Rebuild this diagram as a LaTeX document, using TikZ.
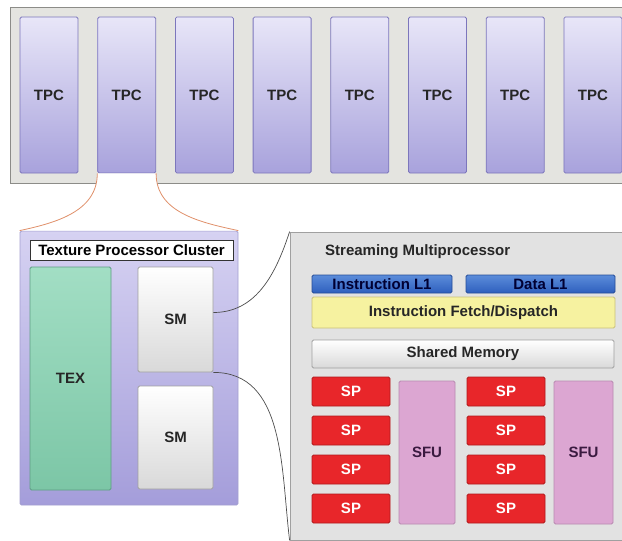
\documentclass[tikz,border=0pt]{standalone}
\usepackage{fontspec}
\setmainfont{Liberation Sans}
\usepackage[dvipsnames]{xcolor}
\usetikzlibrary{positioning}
\definecolor{barfill}{HTML}{E4E4E0}
\definecolor{barline}{HTML}{8C8C88}
\definecolor{tpctop}{HTML}{E8E6F8}
\definecolor{tpcbot}{HTML}{A8A2DC}
\definecolor{tpcline}{HTML}{7C76BC}
\definecolor{clutop}{HTML}{D6D2F2}
\definecolor{clubot}{HTML}{A49DDA}
\definecolor{texbot}{HTML}{7CC6A6}
\definecolor{textop}{HTML}{A2DEC4}
\definecolor{texline}{HTML}{5E9E84}
\definecolor{smline}{HTML}{A0A0A0}
\definecolor{smpfill}{HTML}{E2E2E2}
\definecolor{bluetop}{HTML}{5B8CDA}
\definecolor{bluebot}{HTML}{2E5FBE}
\definecolor{yelfill}{HTML}{F6F2A0}
\definecolor{yelline}{HTML}{C9C07A}
\definecolor{spfill}{HTML}{E8262A}
\definecolor{spline}{HTML}{B01A1C}
\definecolor{sfufill}{HTML}{DCA6D2}
\definecolor{sfuline}{HTML}{B88AB0}
\definecolor{sfutext}{HTML}{3A1A40}
\definecolor{funnel}{HTML}{E0906A}
\tikzset{box/.style = {draw, rounded corners=1.5pt, inner sep=0pt, line width=0.8pt,
                       font=\fontsize{15}{18}\selectfont\bfseries}}
\tikzset{
tpcbox/.style = {box, draw=tpcline, top color=tpctop, bottom color=tpcbot,
                 minimum width=58pt, minimum height=156pt, text=black!85},
clubox/.style = {box, draw=tpcline!70, top color=clutop, bottom color=clubot},
texbox/.style = {box, draw=texline, top color=textop, bottom color=texbot, text=black!85},
smbox/.style = {box, draw=smline, top color=white, bottom color=black!15,
                minimum width=75pt, text=black!85},
l1box/.style = {box, draw=bluebot!80!black, top color=bluetop, bottom color=bluebot,
                minimum height=18pt, text=black!80!blue},
spbox/.style = {box, draw=spline, fill=spfill, minimum width=78pt, minimum height=29pt,
                text=white},
sfubox/.style = {box, draw=sfuline, fill=sfufill, minimum height=143pt, text=sfutext},
link/.style = {black!70, line width=0.7pt},
}

\begin{document}
\begin{tikzpicture}[x=1pt, y=-1pt]
		\useasboundingbox (0,0) rectangle (622,541);
		\clip (0,0) rectangle (622,541);
		\node[box, draw=barline, fill=barfill, rounded corners=0pt, minimum width=622pt, minimum height=176pt] (bar) at (321,95) {};
		\node[tpcbox] (tpc1) at (49,95) {TPC};
		\node[tpcbox] (tpc2) at (126.7,95) {TPC};
		\node[tpcbox] (tpc3) at (204.4,95) {TPC};
		\node[tpcbox] (tpc4) at (282.1,95) {TPC};
		\node[tpcbox] (tpc5) at (359.8,95) {TPC};
		\node[tpcbox] (tpc6) at (437.5,95) {TPC};
		\node[tpcbox] (tpc7) at (515.2,95) {TPC};
		\node[tpcbox] (tpc8) at (592.9,95) {TPC};
		\node[clubox, minimum width=218pt, minimum height=274pt] (clu) at (129,368) {};
		\fill[white] (tpc2.south west) to[out=-90, in=12] (clu.north west) -- (clu.north east) to[out=168, in=-90] (tpc2.south east) -- cycle;
		\draw[funnel, line width=0.8pt] (tpc2.south west) to[out=-90, in=12] (clu.north west);
		\draw[funnel, line width=0.8pt] (tpc2.south east) to[out=-90, in=168] (clu.north east);
		\node[box, draw=black!80, fill=white, rounded corners=0pt, minimum width=203pt, minimum height=20pt] (clutitle) at (131.5,250) {Texture Processor Cluster};
		\node[texbox, minimum width=81pt, minimum height=223pt] (tex) at (70.5,378.5) {TEX};
		\node[smbox, minimum height=105pt] (sm1) at (175.5,319.5) {SM};
		\node[smbox, minimum height=103pt] (sm2) at (175.5,437.5) {SM};
		\node[box, draw=smline, fill=smpfill, rounded corners=0pt, minimum width=350pt, minimum height=308pt] (smp) at (465,386) {};
		\draw[link] ([yshift=7pt]sm1.east) to[out=0, in=-108] (smp.north west);
		\draw[link] (sm1.south east) to[out=0, in=97] (smp.south west);
		\node[anchor=west, inner sep=0pt, font=\fontsize{15}{18}\selectfont\bfseries, text=black!85] (smptitle) at (325,252) {Streaming Multiprocessor};
		\node[l1box, minimum width=140pt] (il1) at (382,284) {Instruction L1};
		\node[l1box, minimum width=149pt] (dl1) at (540.5,284) {Data L1};
		\node[box, draw=yelline, fill=yelfill, minimum width=303pt, minimum height=31pt, text=black!85] (fetch) at (463.5,312.5) {Instruction Fetch/Dispatch};
		\node[smbox, minimum width=302pt, minimum height=28pt] (shm) at (463,354) {Shared Memory};
		\node[spbox] (sp1) at (351,391.5) {SP};
		\node[spbox] (sp2) at (351,430.5) {SP};
		\node[spbox] (sp3) at (351,469.5) {SP};
		\node[spbox] (sp4) at (351,508.5) {SP};
		\node[spbox] (sp5) at (506,391.5) {SP};
		\node[spbox] (sp6) at (506,430.5) {SP};
		\node[spbox] (sp7) at (506,469.5) {SP};
		\node[spbox] (sp8) at (506,508.5) {SP};
		\node[sfubox, minimum width=56pt] (sfu1) at (427,452.5) {SFU};
		\node[sfubox, minimum width=59pt] (sfu2) at (583.5,452.5) {SFU};
	\end{tikzpicture}
\end{document}
